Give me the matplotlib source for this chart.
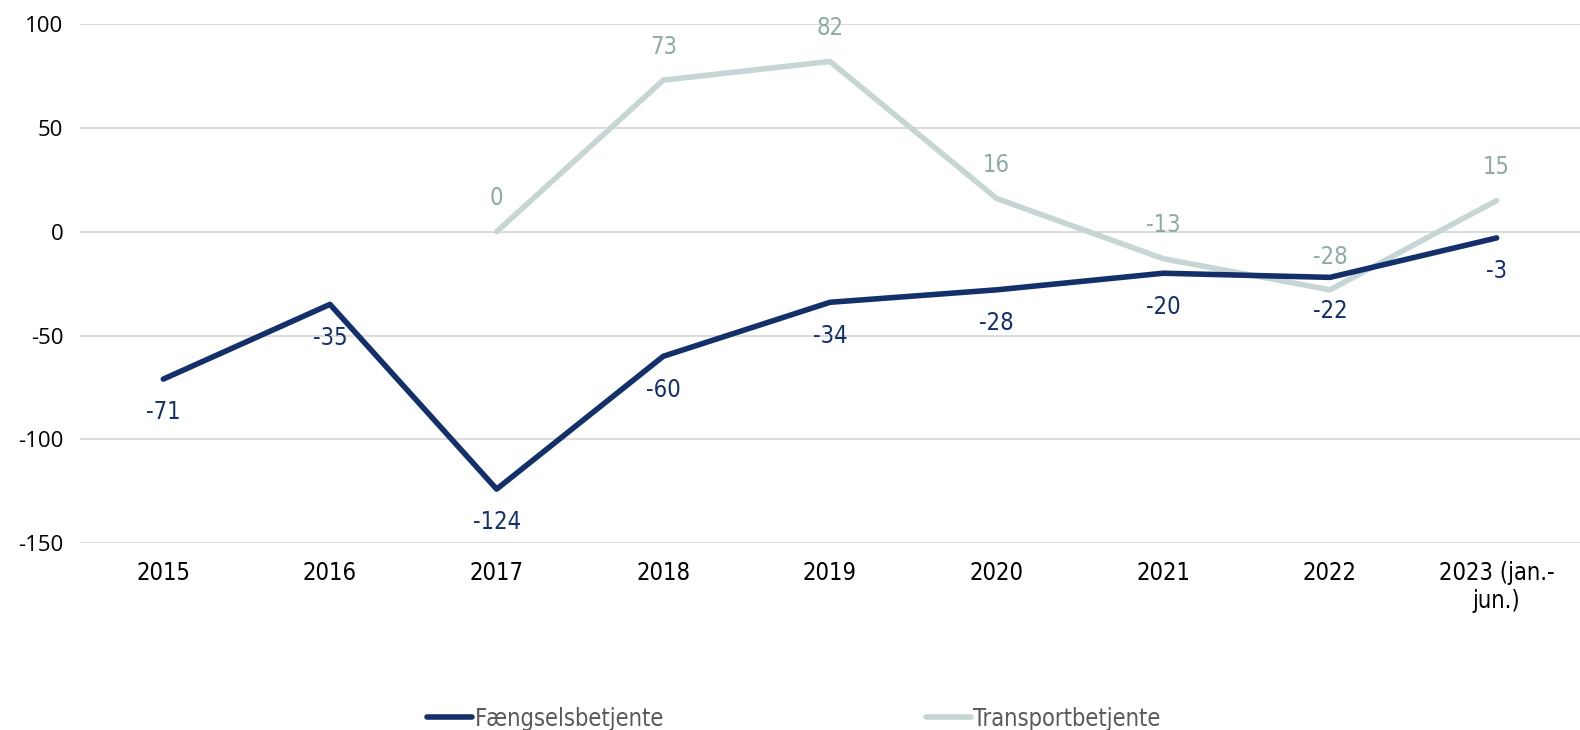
import numpy as np
import matplotlib
matplotlib.use('Agg')
import matplotlib.pyplot as plt

# data
# ----
years = ['2015', '2016', '2017', '2018', '2019', '2020', '2021', '2022', '2023 (jan.-\njun.)']
faengsel = [-71, -35, -124, -60, -34, -28, -20, -22, -3]
transport = [np.nan, np.nan, 0, 73, 82, 16, -13, -28, 15]

dark = '#14306b'
light = '#c5d6d4'
light_txt = '#8eaaa6'

plt.rcParams['font.family'] = ['DejaVu Sans']
plt.rcParams['font.stretch'] = 'condensed'
plt.rcParams['axes.unicode_minus'] = False

fig = plt.figure(figsize=(15.8, 7.3), dpi=100)
ax = fig.add_axes([0.0506, 0.256, 0.9494, 0.711])

x = np.arange(len(years))
p1, = ax.plot(x, faengsel, color=dark, lw=4, solid_capstyle='round', label='Fængselsbetjente', zorder=3)
p2, = ax.plot(x, transport, color=light, lw=4, solid_capstyle='round', label='Transportbetjente', zorder=2)

# data labels --
for i, v in enumerate(faengsel):
    ax.annotate(str(v), (i, v), xytext=(0, -24), textcoords='offset points',
                ha='center', va='center', fontsize=17, color=dark)
for i, v in enumerate(transport):
    if np.isnan(v):
        continue
    ax.annotate(str(int(v)), (i, v), xytext=(0, 24), textcoords='offset points',
                ha='center', va='center', fontsize=17, color=light_txt)

ax.set_xlim(-0.5, len(years) - 0.5)
ax.set_ylim(-150, 100)
ax.set_yticks([-150, -100, -50, 0, 50, 100])
ax.set_xticks(x)
ax.set_xticklabels(years, fontsize=17, color='black')
for t in ax.get_yticklabels():
    t.set_fontsize(16)
    t.set_family('Open Sans')
    t.set_stretch('normal')
ax.tick_params(axis='both', length=0)
ax.tick_params(axis='x', pad=13)
ax.tick_params(axis='y', pad=12)
ax.grid(axis='y', color='#d9d9d9', lw=1.3)
ax.set_axisbelow(True)
for s in ax.spines.values():
    s.set_visible(False)

fig.legend(handles=[p1, p2], loc='lower left', bbox_to_anchor=(0.257, -0.03), ncol=2,
           frameon=False, fontsize=17, handlelength=1.9, handletextpad=0.1,
           columnspacing=11.1, labelcolor='#595959')

fig.savefig('out.png', dpi=100)
